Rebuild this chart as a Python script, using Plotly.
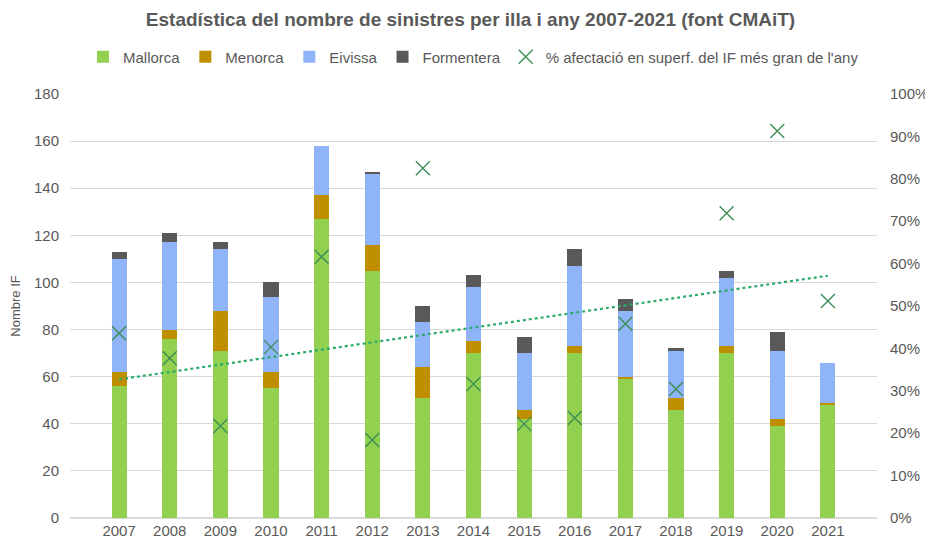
import numpy as np
import plotly.graph_objects as go

years = ["2007", "2008", "2009", "2010", "2011", "2012", "2013", "2014",
         "2015", "2016", "2017", "2018", "2019", "2020", "2021"]
mallorca = [56, 76, 71, 55, 127, 105, 51, 70, 42, 70, 59, 46, 70, 39, 48]
menorca = [6, 4, 17, 7, 10, 11, 13, 5, 4, 3, 1, 5, 3, 3, 1]
eivissa = [48, 37, 26, 32, 21, 30, 19, 23, 24, 34, 28, 20, 29, 29, 17]
formentera = [3, 4, 3, 6, 0, 1, 7, 5, 7, 7, 5, 1, 3, 8, 0]
pct_afectacio = [0.436, 0.377, 0.217, 0.403, 0.616, 0.184, 0.825, 0.316,
                 0.222, 0.236, 0.458, 0.304, 0.719, 0.913, 0.512]

GRAY = "#595959"
FONT = "Liberation Sans, Arial, sans-serif"
W, H = 925, 534  # page has an 8px body margin

fig = go.Figure()
for name, vals, col in [("Mallorca", mallorca, "#92D050"),
                        ("Menorca", menorca, "#BF8F00"),
                        ("Eivissa", eivissa, "#8FB4F8"),
                        ("Formentera", formentera, "#595959")]:
    fig.add_trace(go.Bar(x=years, y=vals, name=name, marker_color=col,
                         marker_line_width=0))

# linear trendline of the percentage series
idx = np.arange(len(years))
slope, intercept = np.polyfit(idx, pct_afectacio, 1)
trend = slope * idx + intercept
fig.add_trace(go.Scatter(x=years, y=trend, mode="lines", yaxis="y2",
                         line=dict(color="#2BAA6A", width=2.2, dash="dot"),
                         showlegend=False, hoverinfo="skip"))
fig.add_trace(go.Scatter(x=years, y=pct_afectacio, mode="markers", yaxis="y2",
                         name="% afectació en superf. del IF més gran de l'any",
                         marker=dict(symbol="x-thin", size=14, color="#3C8F55",
                                     line=dict(color="#3C8F55", width=1.4))))

fig.update_layout(
    barmode="stack",
    bargap=0.7,
    width=W, height=H,
    margin=dict(l=62, r=56, t=86, b=24, autoexpand=False),
    paper_bgcolor="white", plot_bgcolor="white",
    font=dict(family=FONT, color=GRAY, size=15),
    title=dict(text="<b>Estadística del nombre de sinistres per illa i any 2007-2021 (font CMAiT)</b>",
               x=0.5, xanchor="center", yref="container", y=1 - 11 / H, yanchor="middle",
               font=dict(size=19, color=GRAY, family=FONT)),
    legend=dict(orientation="h", x=0.5, xanchor="center", yref="container",
                y=1 - 49 / H, yanchor="middle",
                font=dict(size=15, color=GRAY), itemwidth=30,
                traceorder="normal", bgcolor="rgba(0,0,0,0)"),
    xaxis=dict(type="category", showgrid=False, showline=False, ticks="",
               tickfont=dict(size=15, color=GRAY), automargin=False,
               ticklabelstandoff=2),
    yaxis=dict(range=[0, 180], dtick=20, showgrid=True, gridcolor="#D9D9D9",
               gridwidth=1, zeroline=True, zerolinecolor="#D9D9D9",
               tickfont=dict(size=15, color=GRAY), automargin=False,
               ticklabelstandoff=10,
               title=dict(text="Nombre IF", font=dict(size=13, color=GRAY), standoff=20)),
    yaxis2=dict(range=[0, 1], dtick=0.1, tickformat=".0%", overlaying="y",
                side="right", showgrid=False, zeroline=False, automargin=False,
                ticklabelstandoff=12,
                tickfont=dict(size=15, color=GRAY)),
)

fig.write_html("out.html")
